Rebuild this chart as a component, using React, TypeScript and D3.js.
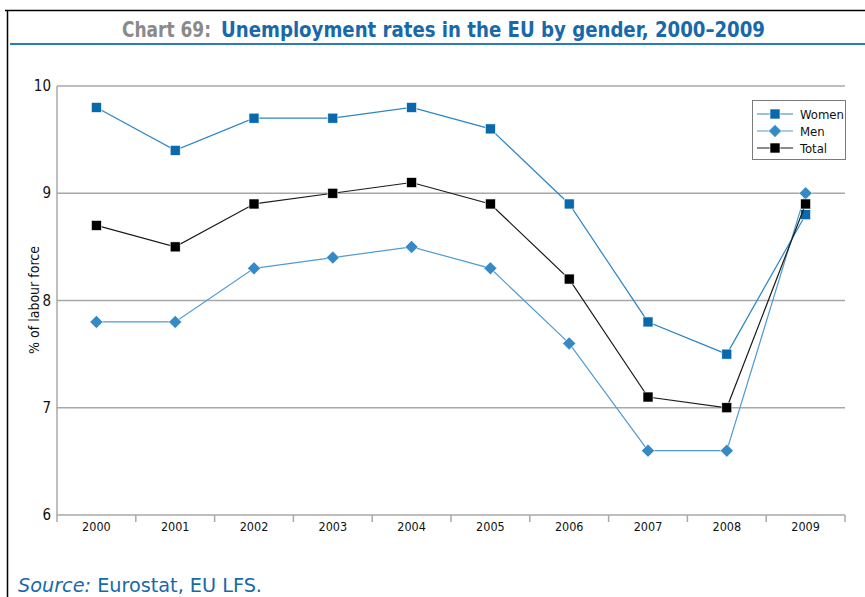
import React from "react";
import * as d3 from "d3";

const years = ["2000", "2001", "2002", "2003", "2004", "2005", "2006", "2007", "2008", "2009"];
const women = [9.8, 9.4, 9.7, 9.7, 9.8, 9.6, 8.9, 7.8, 7.5, 8.8];
const men = [7.8, 7.8, 8.3, 8.4, 8.5, 8.3, 7.6, 6.6, 6.6, 9.0];
const total = [8.7, 8.5, 8.9, 9.0, 9.1, 8.9, 8.2, 7.1, 7.0, 8.9];
const yTicks = [6, 7, 8, 9, 10];

const W = 865;
const H = 597;
const FONT = "'Liberation Sans Narrow', 'DejaVu Sans Condensed', 'Liberation Sans', sans-serif";

export default function App() {
  const x = d3.scaleBand<string>().domain(years).range([57, 845]);
  const y = d3.scaleLinear().domain([6, 10]).range([515, 86]);
  const cx = (yr: string) => (x(yr) as number) + x.bandwidth() / 2;

  const line = (vals: number[]) =>
    d3.line<number>().x((_, i) => cx(years[i])).y((v) => y(v))(vals) as string;

  const series = [
    { name: "Women", vals: women, lineColor: "#2b86c5", fill: "#0a68ad", shape: "square" },
    { name: "Men", vals: men, lineColor: "#4f9bd0", fill: "#3589c4", shape: "diamond" },
    { name: "Total", vals: total, lineColor: "#1a1a1a", fill: "#000000", shape: "square" },
  ];

  const marker = (shape: string, px: number, py: number, fill: string, key: string | number) =>
    shape === "square" ? (
      <rect key={key} x={px - 5} y={py - 5} width={10} height={10} fill={fill} stroke="#fff" strokeWidth={0.6} />
    ) : (
      <path key={key} d={`M${px},${py - 6.5}L${px + 6.5},${py}L${px},${py + 6.5}L${px - 6.5},${py}Z`} fill={fill} stroke="#fff" strokeWidth={0.6} />
    );

  const ticksX = years.map((yr) => x(yr) as number).concat([845]);

  return (
    <svg width={W} height={H} style={{ position: "absolute", left: 0, top: 0 }} fontFamily={FONT}>
      <rect x={0} y={0} width={W} height={H} fill="#fff" />
      {/* frame */}
      <line x1={5} y1={10.5} x2={W} y2={10.5} stroke="#000" strokeWidth={1.5} />
      <line x1={7.5} y1={10} x2={7.5} y2={H} stroke="#000" strokeWidth={1.5} />
      {/* title */}
      <text y={37} fontSize={21} fontWeight="bold">
        <tspan x={122} fill="#8a8a8a" textLength={89} lengthAdjust="spacingAndGlyphs">Chart 69:</tspan>
        <tspan x={221} fill="#1769a9" textLength={544} lengthAdjust="spacingAndGlyphs">
          Unemployment rates in the EU by gender, 2000–2009
        </tspan>
      </text>
      <line x1={10} y1={44} x2={W} y2={44} stroke="#2a7bbb" strokeWidth={2} />

      {/* gridlines */}
      {yTicks.slice(1).map((t) => (
        <line key={t} x1={57} x2={845} y1={y(t)} y2={y(t)} stroke="#a8a8a8" strokeWidth={1.5} />
      ))}
      {/* axes */}
      <line x1={57} x2={57} y1={86} y2={515} stroke="#a8a8a8" strokeWidth={1.5} />
      <line x1={57} x2={845} y1={515} y2={515} stroke="#a8a8a8" strokeWidth={1.5} />
      {ticksX.map((tx, i) => (
        <line key={i} x1={tx} x2={tx} y1={515} y2={522} stroke="#a8a8a8" strokeWidth={1.5} />
      ))}
      {yTicks.map((t) => (
        <text key={t} x={51} y={y(t) + 5} textAnchor="end" fontSize={15} fill="#111">
          {t}
        </text>
      ))}
      {years.map((yr) => (
        <text key={yr} x={cx(yr)} y={531} textAnchor="middle" fontSize={12.5} fill="#111">
          {yr}
        </text>
      ))}
      <text transform={`translate(39,300) rotate(-90)`} textAnchor="middle" fontSize={14} fill="#111">
        % of labour force
      </text>

      {/* series */}
      {series.map((s) => (
        <g key={s.name}>
          <path d={line(s.vals)} fill="none" stroke={s.lineColor} strokeWidth={1.2} />
          {s.vals.map((v, i) => marker(s.shape, cx(years[i]), y(v), s.fill, i))}
        </g>
      ))}

      {/* legend */}
      <rect x={752.5} y={100.5} width={93} height={59} fill="#fff" stroke="#7a7a7a" strokeWidth={1} />
      {series.map((s, i) => {
        const ly = 114 + i * 17;
        return (
          <g key={s.name}>
            <line x1={757} x2={793} y1={ly} y2={ly} stroke={s.lineColor} strokeWidth={1.2} />
            {marker(s.shape, 775, ly, s.fill, "m")}
            <text x={800} y={ly + 4.5} fontSize={13} fill="#111">
              {s.name}
            </text>
          </g>
        );
      })}

      {/* source */}
      <text x={18} y={592} fontSize={19} fill="#1769a9" textLength={244} lengthAdjust="spacingAndGlyphs">
        <tspan fontStyle="italic">Source:</tspan>
        <tspan> Eurostat, EU LFS.</tspan>
      </text>
    </svg>
  );
}
